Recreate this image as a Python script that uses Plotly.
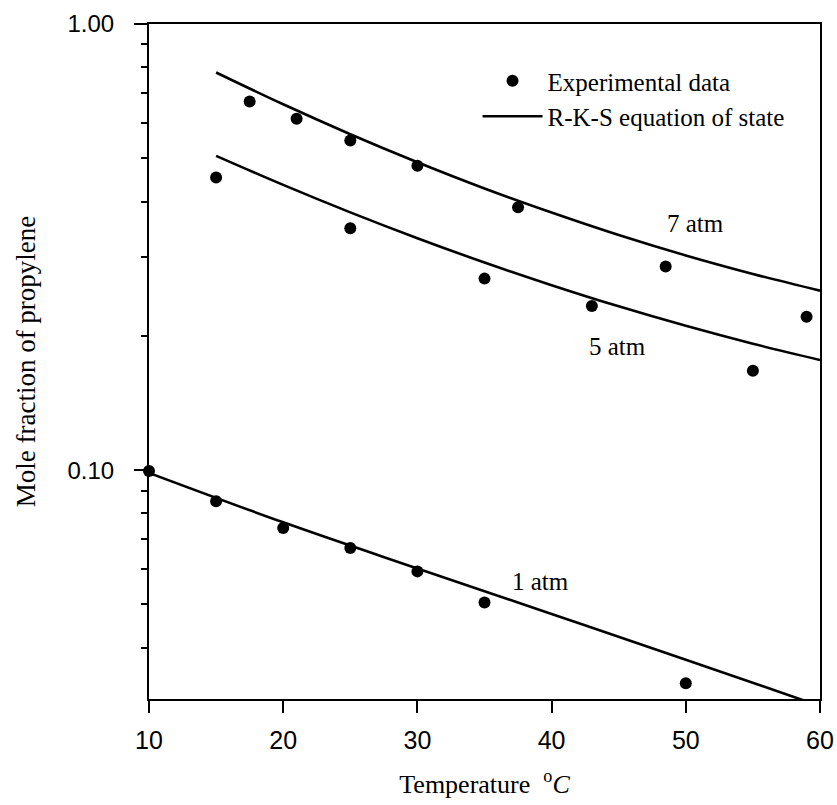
import math
import plotly.graph_objects as go

# Experimental data (temperature in deg C, mole fraction of propylene)
t_1atm = [10, 15, 20, 25, 30, 35, 50]
x_1atm = [0.0995, 0.0852, 0.0742, 0.0669, 0.0593, 0.0505, 0.0333]

t_5atm = [15, 25, 35, 43, 55]
x_5atm = [0.453, 0.3485, 0.2687, 0.2333, 0.167]

t_7atm = [17.5, 21, 25, 30, 37.5, 48.5, 59]
x_7atm = [0.670, 0.613, 0.548, 0.481, 0.3886, 0.2859, 0.2208]

# R-K-S equation of state curves
t_rks_1 = [10, 20, 30, 40, 50, 60]
x_rks_1 = [0.0986, 0.0764, 0.0602, 0.0476, 0.0376, 0.0296]

t_rks_5 = [15, 20, 25, 30, 35, 40, 45, 50, 55, 60]
x_rks_5 = [0.5064, 0.4359, 0.3783, 0.3310, 0.2920, 0.2598, 0.2329, 0.2106, 0.1920, 0.1765]

t_rks_7 = [15, 20, 25, 30, 35, 40, 45, 50, 55, 60]
x_rks_7 = [0.7787, 0.6607, 0.5662, 0.4900, 0.4280, 0.3780, 0.3366, 0.3029, 0.2753, 0.2525]

labels = ["7 atm", "5 atm", "1 atm"]
label_t = [50.7, 44.9, 39.2]
label_x = [0.358, 0.1897, 0.0564]

major_y = [0.1, 1.0]
major_y_text = ["0.10", "1.00"]
minor_y = [0.04, 0.05, 0.06, 0.07, 0.08, 0.09, 0.2, 0.3, 0.4, 0.5, 0.6, 0.7, 0.8, 0.9]
x_ticks = [10, 20, 30, 40, 50, 60]

serif = "Liberation Serif, Times New Roman, serif"
sans = "Liberation Sans, Arial, Helvetica, sans-serif"
y_range = [-1.513, 0]

fig = go.Figure()

exp_sets = [(t_7atm, x_7atm), (t_5atm, x_5atm), (t_1atm, x_1atm)]
for i, (t, x) in enumerate(exp_sets):
    fig.add_trace(go.Scatter(
        x=t, y=x, mode="markers",
        marker=dict(color="black", size=12, symbol="circle"),
        name="Experimental data", legendgroup="exp", showlegend=(i == 0),
        cliponaxis=False,
    ))

rks_sets = [(t_rks_7, x_rks_7), (t_rks_5, x_rks_5), (t_rks_1, x_rks_1)]
for i, (t, x) in enumerate(rks_sets):
    fig.add_trace(go.Scatter(
        x=t, y=x, mode="lines",
        line=dict(color="black", width=2.6, shape="spline", smoothing=1.0),
        name="R-K-S equation of state", legendgroup="rks", showlegend=(i == 0),
    ))

# invisible helper trace so the minor-tick overlay axis is drawn
fig.add_trace(go.Scatter(
    x=t_rks_1, y=x_rks_1, yaxis="y2", mode="lines",
    line=dict(color="rgba(0,0,0,0)", width=0), showlegend=False, hoverinfo="skip",
))

for txt, tx, ty in zip(labels, label_t, label_x):
    fig.add_annotation(x=tx, y=math.log10(ty), yref="y", xref="x", text=txt,
                       showarrow=False,
                       font=dict(family=serif, size=25, color="black"))

fig.update_layout(
    width=837, height=805,
    margin=dict(l=149, r=17, t=24, b=106),
    paper_bgcolor="white", plot_bgcolor="white",
    showlegend=True,
    legend=dict(
        x=0.4896, y=0.9496, xanchor="left", yanchor="top",
        font=dict(family=serif, size=25, color="black"),
        bgcolor="rgba(0,0,0,0)", itemwidth=60, tracegroupgap=0,
    ),
    xaxis=dict(
        range=[10, 60], tickvals=x_ticks, automargin=False,
        showline=True, linecolor="black", linewidth=2, mirror=True,
        ticks="outside", ticklen=12, tickwidth=2, tickcolor="black",
        showgrid=False, zeroline=False,
        tickfont=dict(family=sans, size=25, color="black"),
        ticklabelstandoff=6,
        title=dict(text="Temperature  <sup>o</sup><i>C</i>",
                   font=dict(family=serif, size=26, color="black"), standoff=22),
    ),
    yaxis=dict(
        type="log", range=y_range, automargin=False,
        tickvals=major_y, ticktext=major_y_text,
        showline=True, linecolor="black", linewidth=2, mirror=True,
        ticks="outside", ticklen=13, tickwidth=2, tickcolor="black",
        showgrid=False, zeroline=False,
        tickfont=dict(family=sans, size=24, color="black"),
        ticklabelstandoff=15,
        title=dict(text="Mole fraction of propylene",
                   font=dict(family=serif, size=27, color="black"), standoff=24),
    ),
    yaxis2=dict(
        overlaying="y", side="left", anchor="x", type="log", range=y_range,
        tickvals=minor_y, showticklabels=False, ticks="outside", ticklen=7,
        tickwidth=2, tickcolor="black", showline=False, showgrid=False,
        zeroline=False, automargin=False,
    ),
)

fig.write_html("out.html", config={"displayModeBar": False},
               post_script="document.body.style.margin='0px';")
